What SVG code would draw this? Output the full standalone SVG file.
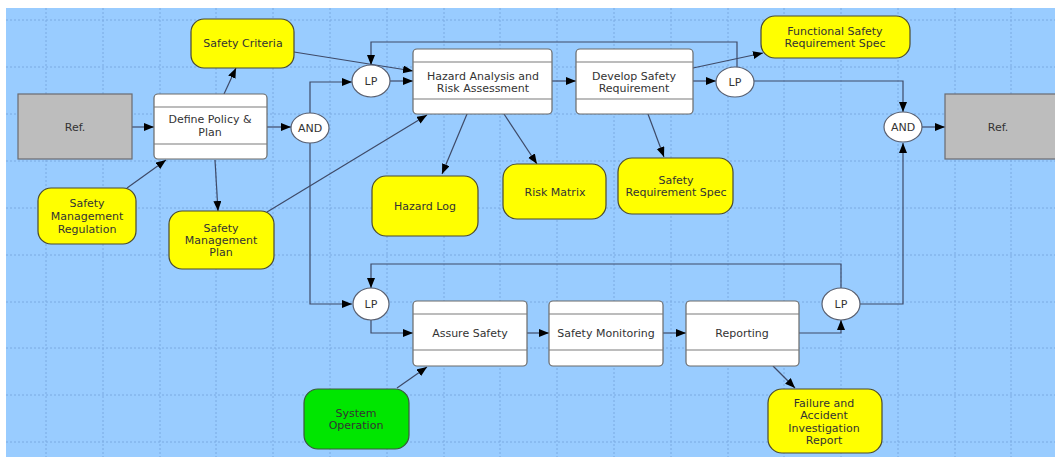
<svg xmlns="http://www.w3.org/2000/svg" width="1055" height="457" viewBox="0 0 1055 457">
<style>
.grid{stroke:#7aaae2;stroke-width:1;stroke-dasharray:2,2}
.box{fill:#ffffff;stroke:#6a6a6a;stroke-width:1.2}
.sep{stroke:#7a7a7a;stroke-width:1.2}
.ref{fill:#bdbdbd;stroke:#6a6a70;stroke-width:1.2}
.doc{fill:#ffff00;stroke:#4a4a30;stroke-width:1.2}
.green{fill:#00e600;stroke:#3a5a3a;stroke-width:1.2}
.gate{fill:#ffffff;stroke:#5a6070;stroke-width:1.2}
.t{font-family:"DejaVu Sans",Verdana,sans-serif;font-size:11px;fill:#333333;text-anchor:middle}
.c{fill:none;stroke:#3e4a68;stroke-width:1.2;marker-end:url(#ah)}
</style>
<defs>
<marker id="ah" markerUnits="userSpaceOnUse" markerWidth="11" markerHeight="9" refX="10" refY="4" orient="auto">
<path d="M0,0 L10,4 L0,8 z" fill="#000000"/>
</marker>
</defs>
<rect x="0" y="0" width="1055" height="457" fill="#ffffff"/>
<rect x="6" y="8" width="1049" height="449" fill="#99ccff"/>
<g id="grid">
<path class="grid" d="M46,8V457M103,8V457M160,8V457M216,8V457M273,8V457M330,8V457M387,8V457M444,8V457M500,8V457M557,8V457M614,8V457M671,8V457M728,8V457M784,8V457M841,8V457M898,8V457M955,8V457M1011,8V457"/>
<path class="grid" d="M6,20H1055M6,67H1055M6,114H1055M6,161H1055M6,208H1055M6,255H1055M6,302H1055M6,348H1055M6,395H1055M6,442H1055"/>
</g>
<g id="connectors">
<path class="c" d="M132,127H154"/>
<path class="c" d="M267,127H291"/>
<path class="c" d="M224,94L236,68"/>
<path class="c" d="M127,188L166,160"/>
<path class="c" d="M215,160L218,211"/>
<path class="c" d="M267,212L427,115"/>
<path class="c" d="M294,52L413,71"/>
<path class="c" d="M310,113V82H352"/>
<path class="c" d="M310,143V304H352"/>
<path class="c" d="M390,81H413"/>
<path class="c" d="M552,81H576"/>
<path class="c" d="M693,81H716"/>
<path class="c" d="M693,68L763,53"/>
<path class="c" d="M737,67V42H371V65"/>
<path class="c" d="M754,81H903V112"/>
<path class="c" d="M922,127H945"/>
<path class="c" d="M467,114L442,174"/>
<path class="c" d="M504,114L537,164"/>
<path class="c" d="M648,114L664,157"/>
<path class="c" d="M841,288V264H371V288"/>
<path class="c" d="M860,304H903V143"/>
<path class="c" d="M371,320V333H413"/>
<path class="c" d="M527,333H549"/>
<path class="c" d="M663,333H686"/>
<path class="c" d="M799,333H841V320"/>
<path class="c" d="M773,366L795,388"/>
<path class="c" d="M397,388L427,367"/>
</g>
<g id="ref-left">
<rect class="ref" x="18" y="94" width="114" height="65"/>
<text class="t" x="75" y="131">Ref.</text>
</g>
<g id="define-policy">
<rect class="box" x="154" y="94" width="113" height="65" rx="4"/>
<path class="sep" d="M154,107H267M154,144H267"/>
<text class="t" x="210" y="123">Define Policy &amp;</text>
<text class="t" x="210" y="136">Plan</text>
</g>
<g id="and-left">
<ellipse class="gate" cx="310" cy="128" rx="19" ry="15"/>
<text class="t" x="310" y="132">AND</text>
</g>
<g id="safety-criteria">
<rect class="doc" x="191" y="19" width="103" height="49" rx="13"/>
<text class="t" x="243" y="47">Safety Criteria</text>
</g>
<g id="safety-management-regulation">
<rect class="doc" x="38" y="188" width="98" height="56" rx="13"/>
<text class="t" x="87" y="207">Safety</text>
<text class="t" x="87" y="220">Management</text>
<text class="t" x="87" y="233">Regulation</text>
</g>
<g id="safety-management-plan">
<rect class="doc" x="169" y="211" width="105" height="58" rx="13"/>
<text class="t" x="221" y="232">Safety</text>
<text class="t" x="221" y="244">Management</text>
<text class="t" x="221" y="256">Plan</text>
</g>
<g id="lp-top-left">
<ellipse class="gate" cx="371" cy="81" rx="19" ry="16"/>
<text class="t" x="371" y="85">LP</text>
</g>
<g id="hazard-analysis">
<rect class="box" x="413" y="49" width="139" height="65" rx="4"/>
<path class="sep" d="M413,62H552M413,99H552"/>
<text class="t" x="483" y="80">Hazard Analysis and</text>
<text class="t" x="483" y="92">Risk Assessment</text>
</g>
<g id="develop-safety">
<rect class="box" x="576" y="49" width="117" height="65" rx="4"/>
<path class="sep" d="M576,62H693M576,99H693"/>
<text class="t" x="634" y="80">Develop Safety</text>
<text class="t" x="634" y="92">Requirement</text>
</g>
<g id="lp-top-right">
<ellipse class="gate" cx="735" cy="82" rx="19" ry="15"/>
<text class="t" x="735" y="86">LP</text>
</g>
<g id="functional-safety-spec">
<rect class="doc" x="761" y="16" width="149" height="42" rx="14"/>
<text class="t" x="835" y="35">Functional Safety</text>
<text class="t" x="835" y="47">Requirement Spec</text>
</g>
<g id="and-right">
<ellipse class="gate" cx="903" cy="127" rx="19" ry="15"/>
<text class="t" x="903" y="131">AND</text>
</g>
<g id="ref-right">
<rect class="ref" x="945" y="94" width="112" height="65"/>
<text class="t" x="998" y="131">Ref.</text>
</g>
<g id="hazard-log">
<rect class="doc" x="372" y="176" width="106" height="60" rx="14"/>
<text class="t" x="425" y="210">Hazard Log</text>
</g>
<g id="risk-matrix">
<rect class="doc" x="503" y="164" width="103" height="55" rx="14"/>
<text class="t" x="555" y="196">Risk Matrix</text>
</g>
<g id="safety-requirement-spec">
<rect class="doc" x="618" y="158" width="115" height="56" rx="14"/>
<text class="t" x="676" y="184">Safety</text>
<text class="t" x="676" y="196">Requirement Spec</text>
</g>
<g id="lp-bottom-left">
<ellipse class="gate" cx="371" cy="304" rx="18" ry="16"/>
<text class="t" x="371" y="308">LP</text>
</g>
<g id="assure-safety">
<rect class="box" x="413" y="301" width="114" height="65" rx="4"/>
<path class="sep" d="M413,314H527M413,350H527"/>
<text class="t" x="470" y="337">Assure Safety</text>
</g>
<g id="safety-monitoring">
<rect class="box" x="549" y="301" width="114" height="65" rx="4"/>
<path class="sep" d="M549,314H663M549,350H663"/>
<text class="t" x="606" y="337">Safety Monitoring</text>
</g>
<g id="reporting">
<rect class="box" x="686" y="301" width="113" height="65" rx="4"/>
<path class="sep" d="M686,314H799M686,350H799"/>
<text class="t" x="742" y="337">Reporting</text>
</g>
<g id="lp-bottom-right">
<ellipse class="gate" cx="841" cy="304" rx="19" ry="16"/>
<text class="t" x="841" y="308">LP</text>
</g>
<g id="failure-report">
<rect class="doc" x="768" y="389" width="114" height="64" rx="14"/>
<text class="t" x="824" y="407">Failure and</text>
<text class="t" x="824" y="419">Accident</text>
<text class="t" x="824" y="432">Investigation</text>
<text class="t" x="824" y="444">Report</text>
</g>
<g id="system-operation">
<rect class="green" x="304" y="389" width="105" height="60" rx="14"/>
<text class="t" x="356" y="417">System</text>
<text class="t" x="356" y="429">Operation</text>
</g>
</svg>
